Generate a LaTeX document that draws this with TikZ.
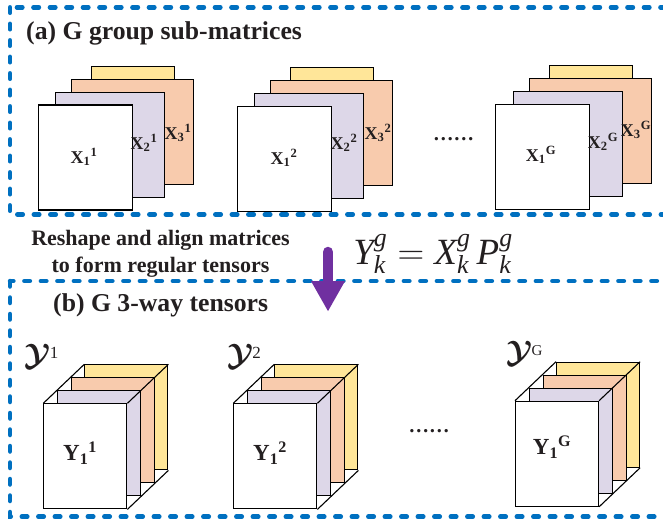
\documentclass[tikz,border=0pt]{standalone}
\usepackage{fix-cm}
\usepackage{amsmath}
\usepackage{fontspec}
\setmainfont{Liberation Serif}
\usepackage{xcolor}
\definecolor{frameblue}{RGB}{0,112,192}
\definecolor{arrowpurple}{RGB}{112,48,160}
\definecolor{sheetyellow}{RGB}{255,230,153}
\definecolor{sheetpeach}{RGB}{248,203,173}
\definecolor{sheetlilac}{RGB}{221,215,232}
\definecolor{textdark}{RGB}{35,31,32}
\usetikzlibrary{arrows.meta, positioning}

\begin{document}
\begin{tikzpicture}[
  x=1pt, y=-1pt,
  groupframe/.style = {draw=frameblue, line width=4.5pt, dash pattern=on 5.5pt off 11pt,
                       line cap=round},
  sheet/.style  = {rectangle, draw=black, line width=1.1pt, anchor=north west,
                   inner sep=0pt, minimum height=105pt},
  slab/.style   = {sheet, minimum width=83pt},
  edge/.style   = {draw=black, line width=1.1pt},
  heading/.style = {font=\fontsize{25.7}{28}\selectfont\bfseries, text=textdark,
                    inner sep=0pt, anchor=west},
  note/.style   = {font=\fontsize{22}{26.7}\selectfont\bfseries, text=textdark,
                   align=center, inner sep=0pt},
  formula/.style = {font=\fontsize{37}{40}\selectfont, text=textdark, inner sep=0pt},
  mlabel/.style = {font=\fontsize{18}{20}\selectfont\bfseries, text=textdark, inner sep=0pt},
  tlabel/.style = {font=\fontsize{23}{25}\selectfont\bfseries, text=textdark, inner sep=0pt},
  tensorname/.style = {font=\fontsize{31}{33}\selectfont, text=textdark, inner sep=0pt},
  ellip/.style  = {font=\fontsize{20.5}{22}\selectfont\bfseries, text=textdark, inner sep=0pt},
  arr/.style    = {-{Triangle[length=30.7pt, width=31.7pt]}, line width=10.5pt,
                   line cap=round, arrowpurple},
]
\useasboundingbox (0,0) rectangle (663,521);

% dashed group frames
\draw[groupframe] (10,7.3) rectangle (700,214.5);
\draw[groupframe] (10,281) rectangle (700,516.7);

\node[heading] (ta) at (26,33) {(a) G group sub-matrices};

% group 1 sub-matrices
\node[sheet, fill=sheetyellow, minimum width=83pt]  (a1y) at (91,66) {};
\node[sheet, fill=sheetpeach, minimum width=122pt]  (a1p) at (71,79) {};
\node[sheet, fill=sheetlilac, minimum width=109pt]  (a1l) at (55,92) {};
\node[sheet, fill=white, minimum width=94pt]        (a1w) at (38,104.5) {};
\node[mlabel] (x11) at (84,157) {X\textsubscript{1}\textsuperscript{1}};
\node[mlabel] (x21) at (144,143) {X\textsubscript{2}\textsuperscript{1}};
\node[mlabel] (x31) at (178,133) {X\textsubscript{3}\textsuperscript{1}};

% group 2 sub-matrices
\node[sheet, fill=sheetyellow, minimum width=83pt]  (a2y) at (289.5,67) {};
\node[sheet, fill=sheetpeach, minimum width=122pt]  (a2p) at (270,80) {};
\node[sheet, fill=sheetlilac, minimum width=109pt]  (a2l) at (254,93) {};
\node[sheet, fill=white, minimum width=94pt]        (a2w) at (237,106) {};
\node[mlabel] (x12) at (284,158) {X\textsubscript{1}\textsuperscript{2}};
\node[mlabel] (x22) at (344,143) {X\textsubscript{2}\textsuperscript{2}};
\node[mlabel] (x32) at (378,133) {X\textsubscript{3}\textsuperscript{2}};

\node[ellip] (adots) at (453.5,139) {……};

% group G sub-matrices
\node[sheet, fill=sheetyellow, minimum width=83pt]  (aGy) at (548.5,65) {};
\node[sheet, fill=sheetpeach, minimum width=122pt]  (aGp) at (529,78) {};
\node[sheet, fill=sheetlilac, minimum width=109pt]  (aGl) at (512.5,91) {};
\node[sheet, fill=white, minimum width=94pt]        (aGw) at (495,104) {};
\node[mlabel] (x1G) at (541,155) {X\textsubscript{1}\textsuperscript{G}};
\node[mlabel] (x2G) at (603,142) {X\textsubscript{2}\textsuperscript{G}};
\node[mlabel] (x3G) at (636,130) {X\textsubscript{3}\textsuperscript{G}};

% reshaping step
\node[note] (reshape) at (160.5,253.5) {Reshape and align matrices\\to form regular tensors};
\node[formula] (eqn) at (433,254)
  {$\mathit{Y}_{\mathit{k}}^{\mathit{g}} = \mathit{X}_{\mathit{k}}^{\mathit{g}}\,\mathit{P}_{\mathit{k}}^{\mathit{g}}$};

\node[heading] (tb) at (53,305) {(b) G 3-way tensors};

% tensor 1
\node[slab, fill=sheetyellow] (b1y) at (84.3,364.3) {};
\node[slab, fill=sheetpeach]  (b1p) at (70.8,377.3) {};
\node[slab, fill=sheetlilac]  (b1l) at (57,390.3) {};
\node[slab, fill=white]       (b1w) at (43.3,403.3) {};
\draw[edge] (b1w.north west) -- (b1y.north west)
            (b1w.north east) -- (b1y.north east)
            (b1w.south east) -- (b1y.south east);
\node[tlabel] (y11) at (80,453) {Y\textsubscript{1}\textsuperscript{1}};
\node[tensorname] (cy1) at (41.5,356)
  {$\boldsymbol{\mathcal{Y}}$\kern-1pt\raisebox{7pt}{\fontsize{17}{18}\selectfont 1}};

% tensor 2
\node[slab, fill=sheetyellow] (b2y) at (274.3,364.3) {};
\node[slab, fill=sheetpeach]  (b2p) at (260.8,377.3) {};
\node[slab, fill=sheetlilac]  (b2l) at (247,390.3) {};
\node[slab, fill=white]       (b2w) at (233.3,403.3) {};
\draw[edge] (b2w.north west) -- (b2y.north west)
            (b2w.north east) -- (b2y.north east)
            (b2w.south east) -- (b2y.south east);
\node[tlabel] (y12) at (270,453) {Y\textsubscript{1}\textsuperscript{2}};
\node[tensorname] (cy2) at (244,356)
  {$\boldsymbol{\mathcal{Y}}$\kern-1pt\raisebox{7pt}{\fontsize{17}{18}\selectfont 2}};

\node[ellip] (bdots) at (429,431) {……};

% tensor G
\node[slab, fill=sheetyellow] (bGy) at (556,361.7) {};
\node[slab, fill=sheetpeach]  (bGp) at (542.5,374.7) {};
\node[slab, fill=sheetlilac]  (bGl) at (528.7,387.7) {};
\node[slab, fill=white]       (bGw) at (515,400.7) {};
\draw[edge] (bGw.north west) -- (bGy.north west)
            (bGw.north east) -- (bGy.north east)
            (bGw.south east) -- (bGy.south east);
\node[tlabel] (y1G) at (552,447) {Y\textsubscript{1}\textsuperscript{G}};
\node[tensorname] (cyG) at (524.5,353)
  {$\boldsymbol{\mathcal{Y}}$\kern-1pt\raisebox{7pt}{\fontsize{15}{16}\selectfont G}};

% reshaping arrow
\coordinate (arrtop) at (328,252);
\coordinate (arrtip) at (328,311.7);
\draw[arr] (arrtop) -- (arrtip);
\end{tikzpicture}
\end{document}
